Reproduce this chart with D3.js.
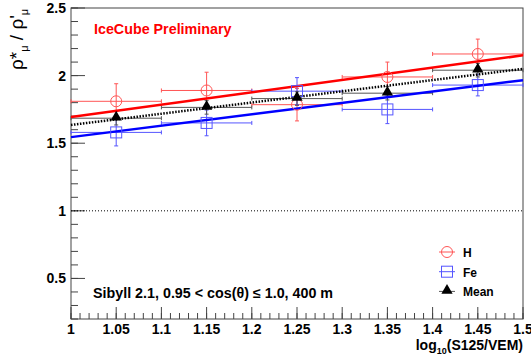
<!DOCTYPE html>
<html>
<head>
<meta charset="utf-8">
<script src="https://cdn.jsdelivr.net/npm/d3@7"></script>
<style>
  body { margin: 0; background: #fff; }
  text { font-family: "Liberation Sans", Arial, Helvetica, sans-serif; font-weight: bold; }
</style>
</head>
<body>
<svg id="chart"></svg>
<script>
// bin centres and half widths
const xVals = [1.05, 1.15, 1.25, 1.35, 1.45];
const xErr = [0.05, 0.05, 0.05, 0.05, 0.05];

// H (proton)
const hVals = [1.81, 1.89, 1.785, 1.99, 2.16];
const hErr = [0.13, 0.135, 0.12, 0.11, 0.11];

// Fe
const feVals = [1.58, 1.65, 1.885, 1.75, 1.93];
const feErr = [0.10, 0.095, 0.10, 0.105, 0.08];

// Mean
const meanVals = [1.685, 1.765, 1.83, 1.87, 2.04];
const meanErr = [0.05, 0.05, 0.05, 0.05, 0.05];

// linear fits, value at x = 1.0 and x = 1.5
const fitX = [1.0, 1.5];
const hFit = [1.694, 2.15];
const feFit = [1.545, 1.966];
const meanFit = [1.635, 2.05];

const xTicks = [1, 1.05, 1.1, 1.15, 1.2, 1.25, 1.3, 1.35, 1.4, 1.45, 1.5];
const yTicks = [0.5, 1, 1.5, 2, 2.5];

const W = 531, H = 358;
const margin = { top: 8, right: 8, bottom: 39, left: 71 };
const width = W - margin.left - margin.right;
const height = H - margin.top - margin.bottom;

const svg = d3.select("#chart").attr("width", W).attr("height", H);
const g = svg.append("g").attr("transform", "translate(" + margin.left + "," + margin.top + ")");

const x = d3.scaleLinear().domain([1, 1.5]).range([0, width]);
const y = d3.scaleLinear().domain([0.2, 2.5]).range([height, 0]);

const axisColor = "#444";

// frame
g.append("rect")
  .attr("width", width).attr("height", height)
  .attr("fill", "none").attr("stroke", axisColor).attr("stroke-width", 1);

// minor ticks
const xMinor = d3.range(1, 1.5001, 0.01);
g.selectAll(".xminor").data(xMinor).join("line")
  .attr("x1", d => x(d)).attr("x2", d => x(d))
  .attr("y1", height).attr("y2", height - 6)
  .attr("stroke", axisColor);
g.selectAll(".xmajor").data(xTicks).join("line")
  .attr("x1", d => x(d)).attr("x2", d => x(d))
  .attr("y1", height).attr("y2", height - 12)
  .attr("stroke", axisColor);

const yMinor = d3.range(0.2, 2.5001, 0.1);
g.selectAll(".yminor").data(yMinor).join("line")
  .attr("x1", 0).attr("x2", 7)
  .attr("y1", d => y(d)).attr("y2", d => y(d))
  .attr("stroke", axisColor);
g.selectAll(".ymajor").data(yTicks).join("line")
  .attr("x1", 0).attr("x2", 14)
  .attr("y1", d => y(d)).attr("y2", d => y(d))
  .attr("stroke", axisColor);

// tick labels
g.selectAll(".xlab").data(xTicks).join("text")
  .attr("x", d => x(d)).attr("y", height + 15)
  .attr("text-anchor", "middle").style("font-size", "14px")
  .text(d => d3.format("")(d));
g.selectAll(".ylab").data(yTicks).join("text")
  .attr("x", -5).attr("y", d => y(d) + 5)
  .attr("text-anchor", "end").style("font-size", "14px")
  .text(d => d);

// axis titles
const xt = g.append("text")
  .attr("x", width).attr("y", height + 31)
  .attr("text-anchor", "end").style("font-size", "14px");
xt.append("tspan").text("log");
xt.append("tspan").attr("dy", 4).style("font-size", "9px").text("10");
xt.append("tspan").attr("dy", -4).text("(S125/VEM)");

const yt = svg.append("text")
  .attr("transform", "translate(23,70) rotate(-90)")
  .attr("text-anchor", "start").style("font-size", "19px").style("font-weight", "normal");
yt.append("tspan").text("ρ*");
yt.append("tspan").attr("dy", 5).style("font-size", "11px").text("μ");
yt.append("tspan").attr("dy", -5).text(" / ρ'");
yt.append("tspan").attr("dy", 5).style("font-size", "11px").text("μ");

// reference line at 1
g.append("line")
  .attr("x1", 0).attr("x2", width)
  .attr("y1", y(1)).attr("y2", y(1))
  .attr("stroke", "#000").attr("stroke-width", 1).attr("stroke-dasharray", "1,2");

// error bars
function drawErrors(vals, errs, col) {
  const pts = xVals.map((d, i) => ({ x: d, ex: xErr[i], y: vals[i], ey: errs[i] }));
  const eg = g.append("g").attr("stroke", col).attr("stroke-width", 1).attr("fill", "none");
  eg.selectAll(".h").data(pts).join("line")
    .attr("x1", d => x(d.x - d.ex)).attr("x2", d => x(d.x + d.ex))
    .attr("y1", d => y(d.y)).attr("y2", d => y(d.y));
  eg.selectAll(".v").data(pts).join("line")
    .attr("x1", d => x(d.x)).attr("x2", d => x(d.x))
    .attr("y1", d => y(d.y - d.ey)).attr("y2", d => y(d.y + d.ey));
  // end caps
  eg.selectAll(".cl").data(pts).join("path")
    .attr("d", d => "M" + x(d.x - d.ex) + "," + (y(d.y) - 2) + "v4M" + x(d.x + d.ex) + "," + (y(d.y) - 2) + "v4"
      + "M" + (x(d.x) - 2) + "," + y(d.y - d.ey) + "h4M" + (x(d.x) - 2) + "," + y(d.y + d.ey) + "h4");
  return pts;
}

const hPts = drawErrors(hVals, hErr, "#f55");
const fePts = drawErrors(feVals, feErr, "#55f");
const meanPts = drawErrors(meanVals, meanErr, "#555");

// fit lines
const line = d3.line().x(d => x(d[0])).y(d => y(d[1]));
g.append("path").datum(fitX.map((d, i) => [d, hFit[i]]))
  .attr("d", line).attr("fill", "none").attr("stroke", "#f00").attr("stroke-width", 2.5);
g.append("path").datum(fitX.map((d, i) => [d, feFit[i]]))
  .attr("d", line).attr("fill", "none").attr("stroke", "#00f").attr("stroke-width", 2.5);
g.append("path").datum(fitX.map((d, i) => [d, meanFit[i]]))
  .attr("d", line).attr("fill", "none").attr("stroke", "#000").attr("stroke-width", 2.5)
  .attr("stroke-dasharray", "1.5,1.5");

// markers
g.selectAll(".hm").data(hPts).join("circle")
  .attr("cx", d => x(d.x)).attr("cy", d => y(d.y)).attr("r", 5.5)
  .attr("fill", "none").attr("stroke", "#f55").attr("stroke-width", 1);
g.selectAll(".fm").data(fePts).join("rect")
  .attr("x", d => x(d.x) - 5.5).attr("y", d => y(d.y) - 5.5)
  .attr("width", 11).attr("height", 11)
  .attr("fill", "none").attr("stroke", "#55f").attr("stroke-width", 1);
const tri = d3.symbol().type(d3.symbolTriangle).size(55);
g.selectAll(".mm").data(meanPts).join("path")
  .attr("transform", d => "translate(" + x(d.x) + "," + (y(d.y) - 1) + ")")
  .attr("d", tri).attr("fill", "#000");

// texts
svg.append("text").attr("x", 94).attr("y", 34)
  .style("font-size", "14.3px").attr("fill", "#f00").text("IceCube Preliminary");
svg.append("text").attr("x", 93).attr("y", 298)
  .style("font-size", "14.3px").attr("fill", "#000").text("Sibyll 2.1, 0.95 < cos(θ) ≤ 1.0, 400 m");

// legend
const legendNames = ["H", "Fe", "Mean"];
const legendCols = ["#f55", "#55f", "#000"];
const lg = svg.append("g");
legendNames.forEach((name, i) => {
  const cy = 252 + i * 19.7;
  const cx = 447;
  lg.append("line").attr("x1", cx - 8).attr("x2", cx + 8).attr("y1", cy).attr("y2", cy)
    .attr("stroke", i === 2 ? "#555" : legendCols[i]);
  if (i === 0) {
    lg.append("circle").attr("cx", cx).attr("cy", cy).attr("r", 5.5)
      .attr("fill", "none").attr("stroke", legendCols[i]);
  } else if (i === 1) {
    lg.append("rect").attr("x", cx - 5.5).attr("y", cy - 5.5).attr("width", 11).attr("height", 11)
      .attr("fill", "none").attr("stroke", legendCols[i]);
  } else {
    lg.append("path").attr("transform", "translate(" + cx + "," + (cy - 1) + ")").attr("d", tri).attr("fill", "#000");
  }
  lg.append("text").attr("x", 463).attr("y", cy + 5)
    .style("font-size", "12px").text(name);
});
</script>
</body>
</html>
